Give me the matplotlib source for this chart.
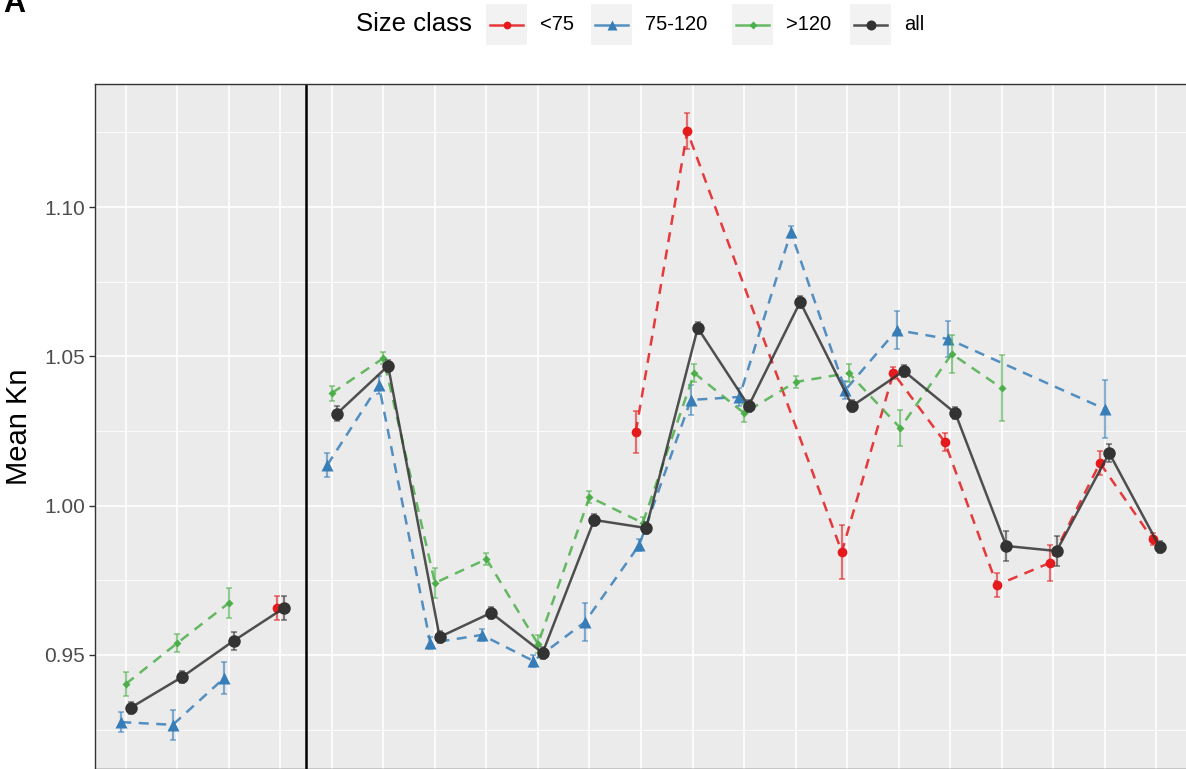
#!/usr/bin/env python3
"""
Mean Kn by sampling point and size class, with dodged points and error bars.
"""

import numpy as np
import matplotlib
matplotlib.use("Agg")
import matplotlib.pyplot as plt
from matplotlib.patches import Rectangle
from matplotlib.lines import Line2D

nan = np.nan

# x positions (the black line splits the two periods)
positions = list(range(1, 22))
segments = [(1, 4), (5, 21)]
split_at = 4.5

size_classes = ["<75", "75-120", ">120", "all"]

kn_small = [nan, nan, nan, 0.9657, nan, nan, nan, nan, nan, nan, 1.0247,
            1.1254, nan, nan, 0.9845, 1.0444, 1.0213, 0.9734, 0.9808, 1.0143, 0.9888]
err_small = [nan, nan, nan, 0.004, nan, nan, nan, nan, nan, nan, 0.007,
             0.006, nan, nan, 0.009, 0.002, 0.003, 0.004, 0.006, 0.004, 0.002]

kn_mid = [0.9275, 0.9266, 0.9423, nan, 1.0136, 1.0404, 0.9540, 0.9567, 0.9480, 0.9610, 0.9868,
          1.0354, 1.0364, 1.0916, 1.0387, 1.0588, 1.0558, nan, nan, 1.0324, nan]
err_mid = [0.0033, 0.005, 0.0055, nan, 0.004, 0.003, 0.002, 0.002, 0.002, 0.0065, 0.002,
           0.005, 0.003, 0.002, 0.003, 0.0065, 0.006, nan, nan, 0.0097, nan]

kn_large = [0.9403, 0.9540, 0.9674, nan, 1.0377, 1.0494, 0.9741, 0.9821, 0.9537, 1.0029, 0.9942,
            1.0444, 1.0310, 1.0414, 1.0444, 1.0260, 1.0508, 1.0394, nan, nan, nan]
err_large = [0.004, 0.003, 0.005, nan, 0.0025, 0.002, 0.005, 0.002, 0.003, 0.002, 0.002,
             0.003, 0.003, 0.002, 0.003, 0.006, 0.0065, 0.011, nan, nan, nan]

kn_all = [0.9323, 0.9426, 0.9547, 0.9657, 1.0307, 1.0468, 0.9560, 0.9641, 0.9507, 0.9952, 0.9925,
          1.0595, 1.0334, 1.0682, 1.0334, 1.0451, 1.0310, 0.9865, 0.9848, 1.0176, 0.9862]
err_all = [0.002, 0.002, 0.003, 0.004, 0.0025, 0.002, 0.002, 0.002, 0.002, 0.002, 0.002,
           0.002, 0.002, 0.002, 0.002, 0.002, 0.002, 0.005, 0.005, 0.003, 0.002]

# styling per size class: colour, marker, marker size, line style, line width
styles = {
    "<75": dict(color="#E41A1C", marker="o", ms=7, ls=(0, (4, 3)), lw=1.8),
    "75-120": dict(color="#377EB8", marker="^", ms=8.5, ls=(0, (4, 3)), lw=1.8),
    ">120": dict(color="#4DAF4A", marker="D", ms=4.5, ls=(0, (4, 3)), lw=1.8),
    "all": dict(color="#333333", marker="o", ms=9, ls="-", lw=1.8),
}

DODGE = 0.27


def dodge_offsets(series):
    """Offsets for each group at each x, ggplot position_dodge style."""
    values = np.array(series, dtype=float)
    offsets = np.full(values.shape, nan)
    for j in range(values.shape[1]):
        present = [i for i in range(values.shape[0]) if not np.isnan(values[i, j])]
        n = len(present)
        for k, i in enumerate(present):
            offsets[i, j] = (k - (n - 1) / 2) * DODGE / n
    return offsets


def draw_legend(fig):
    """Horizontal legend across the top, drawn in pixel units."""
    lax = fig.add_axes([0, 1 - 50 / 769, 1, 50 / 769])
    lax.set_xlim(0, 1186)
    lax.set_ylim(50, 0)
    lax.axis("off")
    lax.text(472, 24, "Size class", ha="right", va="center", fontsize=18.5,
             family="Liberation Sans", color="black")
    box_left = [486, 591, 732, 850]
    for name, bx in zip(size_classes, box_left):
        st = styles[name]
        lax.add_patch(Rectangle((bx, 4), 41, 41, facecolor="#F2F2F2", edgecolor="none"))
        lax.add_line(Line2D([bx + 4, bx + 37], [24.5, 24.5], color=st["color"], lw=st["lw"],
                            alpha=0.85))
        lax.plot(bx + 20.5, 24.5, marker=st["marker"], color=st["color"],
                 ms=st["ms"] * 0.8, mec="none")
        lax.text(bx + 54, 24, name, ha="left", va="center", fontsize=14.5,
                 family="Liberation Sans", color="black")


def main():
    series = [kn_small, kn_mid, kn_large, kn_all]
    errors = [err_small, err_mid, err_large, err_all]
    offsets = dodge_offsets(series)
    x = np.array(positions, dtype=float)

    fig = plt.figure(figsize=(11.86, 7.69), dpi=100)
    ax = fig.add_axes([95 / 1186, 0, 1092 / 1186, 1 - 84 / 769])

    ax.set_facecolor("#EBEBEB")
    ax.set_xlim(0.4, 21.6)
    ax.set_ylim(0.9118, 1.1412)

    ax.set_yticks([0.95, 1.00, 1.05, 1.10])
    ax.set_yticklabels(["0.95", "1.00", "1.05", "1.10"])
    ax.set_yticks([0.925, 0.975, 1.025, 1.075, 1.125], minor=True)
    ax.set_xticks(positions)
    ax.set_xticklabels([])
    ax.grid(True, which="major", color="white", lw=1.2)
    ax.grid(True, which="minor", axis="y", color="white", lw=0.6)
    ax.set_axisbelow(True)
    ax.tick_params(axis="y", which="major", length=4, width=1, color="#333333",
                   labelsize=15, labelcolor="#4D4D4D", pad=3)
    ax.tick_params(axis="y", which="minor", length=0)
    ax.tick_params(axis="x", length=0)
    for lab in ax.get_yticklabels():
        lab.set_family("Liberation Sans")
    for side in ["left", "top", "right", "bottom"]:
        ax.spines[side].set_color("#333333")
        ax.spines[side].set_linewidth(1.0)

    ax.set_ylabel("Mean Kn", fontsize=21, family="Liberation Sans", labelpad=8)

    ax.axvline(split_at, color="black", lw=1.8, zorder=2)

    for g, name in enumerate(size_classes):
        st = styles[name]
        y = np.array(series[g], dtype=float)
        e = np.array(errors[g], dtype=float)
        xd = x + offsets[g]
        z = 3 + g
        # lines join available points within each period
        for lo, hi in segments:
            m = (x >= lo) & (x <= hi) & ~np.isnan(y)
            ax.plot(xd[m], y[m], color=st["color"], ls=st["ls"], lw=st["lw"],
                    alpha=0.85, zorder=z)
        m = ~np.isnan(y)
        ax.errorbar(xd[m], y[m], yerr=e[m], fmt="none", ecolor=st["color"],
                    elinewidth=1.6, capsize=2, capthick=1.2, alpha=0.6, zorder=z)
        ax.plot(xd[m], y[m], ls="none", marker=st["marker"], ms=st["ms"],
                color=st["color"], mec="none", zorder=z + 0.5)

    draw_legend(fig)
    fig.text(0.003, 1 - 12 / 769, "A", fontsize=22, fontweight="bold",
             family="Liberation Sans", va="baseline", ha="left")

    fig.savefig("out.png", dpi=100)


if __name__ == "__main__":
    main()
